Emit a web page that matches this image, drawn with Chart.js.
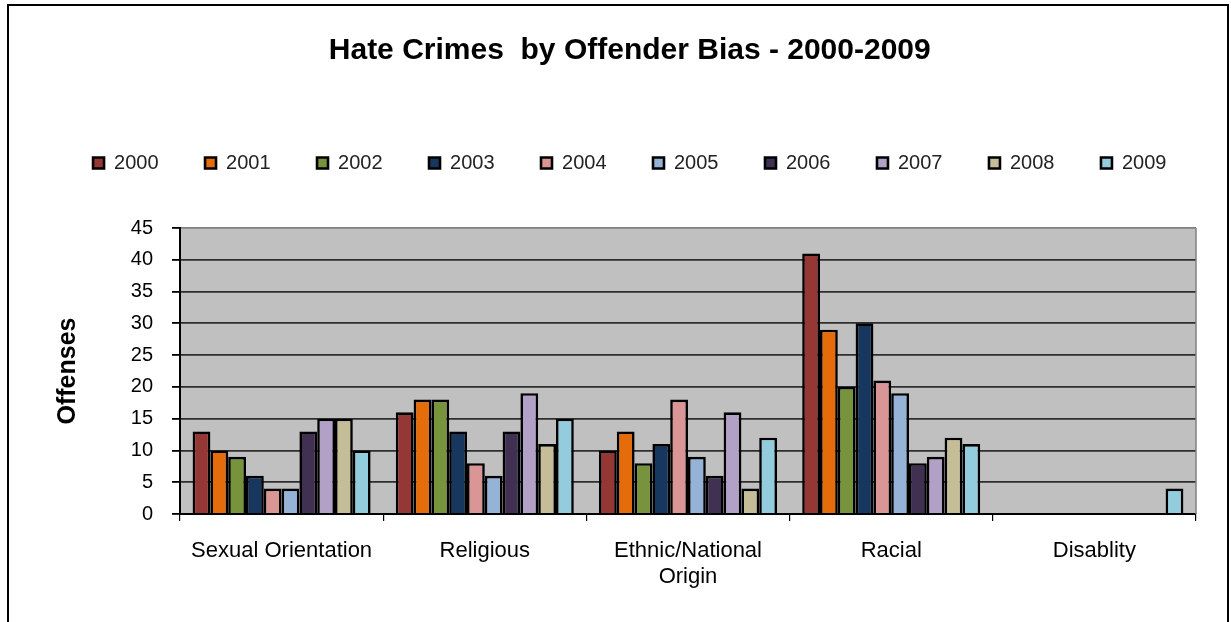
<!DOCTYPE html>
<html>
<head>
<meta charset="utf-8">
<script src="https://cdn.jsdelivr.net/npm/chart.js@4.4.1/dist/chart.umd.min.js"></script>
<style>
  html, body { margin: 0; padding: 0; background: #ffffff; }
  #wrap { width: 1231px; height: 622px; position: relative; }
</style>
</head>
<body>
<div id="wrap"><canvas id="c" width="1231" height="622"></canvas></div>
<script>
const categories = ['Sexual Orientation', 'Religious', ['Ethnic/National', 'Origin'], 'Racial', 'Disablity'];
const years = ['2000', '2001', '2002', '2003', '2004', '2005', '2006', '2007', '2008', '2009'];
const v2000 = [13, 16, 10, 41, 0];
const v2001 = [10, 18, 13, 29, 0];
const v2002 = [9, 18, 8, 20, 0];
const v2003 = [6, 13, 11, 30, 0];
const v2004 = [4, 8, 18, 21, 0];
const v2005 = [4, 6, 9, 19, 0];
const v2006 = [13, 13, 6, 8, 0];
const v2007 = [15, 19, 16, 9, 0];
const v2008 = [15, 11, 4, 12, 0];
const v2009 = [10, 15, 12, 11, 4];
const seriesValues = [v2000, v2001, v2002, v2003, v2004, v2005, v2006, v2007, v2008, v2009];
const yTicks = [0, 5, 10, 15, 20, 25, 30, 35, 40, 45];
const colors = ['#953735', '#E46C0A', '#77933C', '#17375E', '#D99694', '#95B3D7', '#403152', '#B2A1C7', '#C4BD97', '#93CDDD'];

const FONT = "'Liberation Sans', Arial, sans-serif";

const frameAndBg = {
  id: 'frameAndBg',
  beforeInit(chart) {
    const lg = chart.legend;
    if (lg) {
      const orig = lg.fit.bind(lg);
      lg.fit = function () { orig(); this.height = 121.5; };
    }
  },
  beforeDraw(chart) {
    const { ctx, chartArea: a } = chart;
    ctx.save();
    ctx.fillStyle = '#ffffff';
    ctx.fillRect(0, 0, chart.width, chart.height);
    ctx.fillStyle = '#C0C0C0';
    ctx.fillRect(a.left, a.top, a.right - a.left, a.bottom - a.top);
    ctx.restore();
  },
  afterDraw(chart) {
    const { ctx, chartArea: a } = chart;
    ctx.save();
    ctx.strokeStyle = '#808080';
    ctx.lineWidth = 1.5;
    ctx.beginPath();
    ctx.moveTo(a.right, a.top);
    ctx.lineTo(a.right, a.bottom);
    ctx.stroke();
    ctx.strokeStyle = '#000000';
    ctx.lineWidth = 2;
    ctx.strokeRect(8, 5, 1220, 700);
    ctx.restore();
  }
};

new Chart(document.getElementById('c'), {
  type: 'bar',
  data: {
    labels: categories,
    datasets: years.map((y, i) => ({
      label: y,
      data: seriesValues[i],
      backgroundColor: colors[i],
      borderColor: '#000000',
      borderWidth: 2.6,
      categoryPercentage: 0.876,
      barPercentage: 1.0
    }))
  },
  options: {
    responsive: false,
    animation: false,
    devicePixelRatio: 1,
    layout: { padding: { left: 28.5, right: 0, top: 0, bottom: 0 } },
    plugins: {
      tooltip: { enabled: false },
      title: {
        display: true,
        text: 'Hate Crimes  by Offender Bias - 2000-2009',
        color: '#000000',
        font: { family: FONT, size: 30, weight: 'bold' },
        padding: { top: 33, bottom: 37.5 }
      },
      legend: {
        display: true,
        position: 'top',
        labels: {
          boxWidth: 11,
          boxHeight: 11,
          padding: 46.5,
          color: '#222222',
          font: { family: FONT, size: 20 }
        }
      }
    },
    scales: {
      x: {
        grid: {
          display: true,
          drawOnChartArea: false,
          drawTicks: true,
          tickLength: 7,
          color: '#000000',
          lineWidth: 1.2,
          offset: true
        },
        border: { display: true, color: '#000000', width: 2 },
        ticks: {
          color: '#000000',
          padding: 16.8,
          maxRotation: 0,
          autoSkip: false,
          font: { family: FONT, size: 22, lineHeight: 1.2 }
        },
        afterFit(scale) { scale.height = 108; }
      },
      y: {
        position: 'left',
        min: 0,
        max: 45,
        afterBuildTicks(scale) { scale.ticks = yTicks.map(v => ({ value: v })); },
        grid: {
          display: true,
          drawTicks: true,
          tickLength: 8,
          lineWidth: 1.8,
          color: (ctx) => (ctx.tick && ctx.tick.value === 45 ? '#808080' : '#2e2e2e'),
          tickColor: '#000000'
        },
        border: { display: true, color: '#000000', width: 2 },
        ticks: {
          color: '#000000',
          padding: 19,
          font: { family: FONT, size: 20 }
        },
        title: {
          display: true,
          text: 'Offenses',
          color: '#000000',
          font: { family: FONT, size: 25, weight: 'bold', lineHeight: 1.2 },
          padding: { top: 24.5, bottom: 0 }
        },
        afterFit(scale) { scale.width = 151.5; }
      },
      y2: {
        position: 'right',
        display: true,
        grid: { display: false, drawTicks: false },
        border: { display: false },
        ticks: { display: false },
        afterFit(scale) { scale.width = 35; }
      }
    }
  },
  plugins: [frameAndBg]
});
</script>
</body>
</html>
